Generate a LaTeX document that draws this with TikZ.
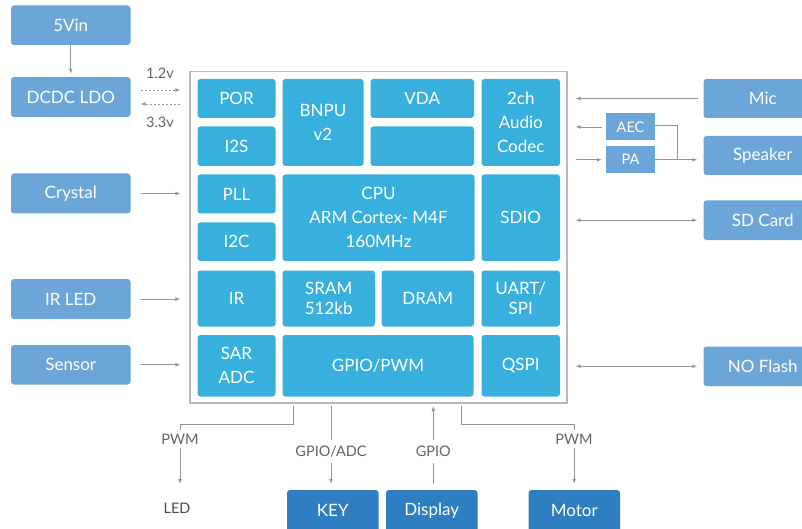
\documentclass[tikz,border=0pt]{standalone}
\usepackage{fontspec}
\setmainfont{Lato}
\usetikzlibrary{arrows.meta,calc}
\definecolor{boxblue}{RGB}{108,166,217}
\definecolor{chipblue}{RGB}{56,176,222}
\definecolor{darkblue}{RGB}{46,126,193}
\definecolor{linegray}{RGB}{150,150,150}
\definecolor{bordergray}{RGB}{185,185,185}
\definecolor{txtgray}{RGB}{100,100,100}
\newcommand\rbox[6]{\node[#1, minimum width={#4-#2}, minimum height={#5-#3}] (#6) at ({(#2+#4)/2},{(#3+#5)/2})}
\begin{document}
\begin{tikzpicture}[x=1pt,y=-1pt,
  extbox/.style={fill=boxblue, rounded corners=3pt, text=white, inner sep=0pt, font=\fontsize{17}{20}\selectfont},
  smallbox/.style={fill=boxblue, text=white, inner sep=0pt, font=\fontsize{14.5}{18}\selectfont},
  devbox/.style={fill=darkblue, rounded corners=3pt, text=white, inner sep=0pt, font=\fontsize{17}{20}\selectfont},
  blk/.style={fill=chipblue, rounded corners=3pt, text=white, inner sep=0pt, align=center, font=\fontsize{17}{24}\selectfont},
  blktight/.style={blk, font=\fontsize{17}{20}\selectfont},
  chipframe/.style={draw=bordergray, line width=1.2pt, inner sep=0pt},
  arr/.style={draw=linegray, line width=0.9pt, -{Latex[length=5pt,width=4pt]}},
  darr/.style={draw=linegray, line width=0.9pt, {Latex[length=5pt,width=4pt]}-{Latex[length=5pt,width=4pt]}},
  dotarr/.style={arr, dash pattern=on 2pt off 2pt},
  plain/.style={draw=linegray, line width=0.9pt},
  lbl/.style={text=txtgray, inner sep=3pt, font=\fontsize{14.5}{17}\selectfont},
  gaplbl/.style={lbl, fill=white, inner sep=4pt}
]
\useasboundingbox (0,0) rectangle (802,529);
\clip (0,0) rectangle (802,529);

% chip frame
\rbox{chipframe}{190}{71.7}{567}{403}{chip} {};

% inner blocks
\rbox{blk}{197.5}{79}{275.5}{118}{por} {POR};
\rbox{blk}{197.5}{126.5}{275.5}{166}{iis} {I2S};
\rbox{blk}{197.5}{174.5}{275.5}{213.5}{pll} {PLL};
\rbox{blk}{197.5}{222.5}{275.5}{261}{iic} {I2C};
\rbox{blk}{197.5}{270.5}{275.5}{326.5}{ir} {IR};
\rbox{blk}{197.5}{335}{275.5}{396.5}{sar} {SAR\\ADC};
\rbox{blk}{282.5}{79}{363.5}{166}{bnpu} {BNPU\\v2};
\rbox{blk}{370.5}{79}{474}{118}{vda} {VDA};
\rbox{blk}{370.5}{126.5}{474}{166}{blank} {};
\rbox{blk}{481.5}{79}{560}{166}{codec} {2ch\\Audio\\Codec};
\rbox{blk}{282.5}{174.5}{474.5}{261}{cpu} {CPU\\ARM Cortex- M4F\\160MHz};
\rbox{blk}{481.5}{174.5}{560}{261}{sdio} {SDIO};
\rbox{blktight}{282.5}{270.5}{375}{326.5}{sram} {SRAM\\512kb};
\rbox{blk}{381.5}{270.5}{474}{326.5}{dram} {DRAM};
\rbox{blktight}{481.5}{270.5}{560}{326.5}{uart} {UART/\\SPI};
\rbox{blk}{282.5}{335}{473.5}{396.5}{gpio} {GPIO/PWM};
\rbox{blk}{481.5}{335}{560}{396.5}{qspi} {QSPI};

% left boxes
\rbox{extbox}{11}{5.5}{130.5}{45}{vin} {5Vin};
\rbox{extbox}{11}{77}{130.5}{117}{dcdc} {DCDC LDO};
\rbox{extbox}{11}{173.5}{130.5}{213.5}{crystal} {Crystal};
\rbox{extbox}{11}{279}{130.5}{319}{irled} {IR LED};
\rbox{extbox}{11}{345}{130.5}{384.5}{sensor} {Sensor};

% right boxes
\rbox{extbox}{703.5}{79}{822}{118}{mic} {Mic};
\rbox{extbox}{703.5}{136}{822}{175}{spk} {Speaker};
\rbox{extbox}{703.5}{200.5}{822}{240}{sd} {SD Card};
\rbox{extbox}{703.5}{346.5}{822}{386}{flash} {NO Flash};
\rbox{smallbox}{606}{113.5}{655}{140.5}{aec} {AEC};
\rbox{smallbox}{606}{146}{655}{173.5}{pa} {PA};

% bottom boxes
\rbox{devbox}{287}{490}{378.5}{532}{key} {\raisebox{1.5pt}{KEY}};
\rbox{devbox}{386}{490}{477.5}{532}{disp} {\raisebox{1.5pt}{Display}};
\rbox{devbox}{528.5}{490}{620}{532}{motor} {\raisebox{1.5pt}{Motor}};
\node[lbl, text=black!70] (led) at (177,508) {LED};

% power
\draw[arr, shorten >=3pt] (vin.south) -- (dcdc.north);
\coordinate (p12) at ($(dcdc.east)+(0,-7)$);
\coordinate (p33) at ($(dcdc.east)+(0,7)$);
\draw[dotarr, shorten <=10pt, shorten >=9pt] (p12) -- (p12 -| chip.west);
\draw[dotarr, shorten <=9pt, shorten >=10pt] (p33 -| chip.west) -- (p33);
\node[lbl] (v12) at (160,73) {1.2v};
\node[lbl] (v33) at (160,122) {3.3v};

% left inputs
\draw[arr, shorten <=10pt, shorten >=9pt] (crystal.east) -- (crystal.east -| chip.west);
\draw[arr, shorten <=10pt, shorten >=9pt] (irled.east) -- (irled.east -| chip.west);
\draw[arr, shorten <=10pt, shorten >=9pt] (sensor.east) -- (sensor.east -| chip.west);

% right side
\draw[arr, shorten <=5pt, shorten >=8pt] (mic.west) -- (mic.west -| chip.east);
\draw[arr, shorten <=4pt, shorten >=8pt] (aec.west) -- (aec.west -| chip.east);
\draw[arr, shorten <=8pt, shorten >=4pt] (pa.west -| chip.east) -- (pa.west);
\coordinate (jn) at (677,160);
\draw[plain] ($(aec.east)+(0,-2)$) -| (jn);
\draw[arr, shorten >=6pt] (pa.east) -- (pa.east -| spk.west);
\draw[darr, shorten <=8pt, shorten >=6pt] (sd.west -| chip.east) -- (sd.west);
\draw[darr, shorten <=8pt, shorten >=6pt] (flash.west -| chip.east) -- (flash.west);

% bottom
\coordinate (b1) at (293.3,406);
\coordinate (ledtip) at (180,484);
\draw[arr] (b1) -- ++(0,18) -| (ledtip);
\node[gaplbl] (pwm1) at (180,439) {PWM};

\coordinate (k0) at (331,406);
\draw[arr, shorten >=6pt] (k0) -- (k0 |- key.north);
\node[gaplbl, inner sep=6pt] (gadc) at (331,451.5) {GPIO/ADC};

\coordinate (d0) at (433.3,406);
\draw[arr, shorten <=6pt] (d0 |- disp.north) -- (d0);
\node[gaplbl, inner sep=6pt] (gpiol) at (433.3,451.5) {GPIO};

\coordinate (m0) at (461,406);
\draw[arr, shorten >=6pt] (m0) -- ++(0,18) -| (motor.north);
\node[gaplbl] (pwm2) at (574,439) {PWM};
\end{tikzpicture}
\end{document}
